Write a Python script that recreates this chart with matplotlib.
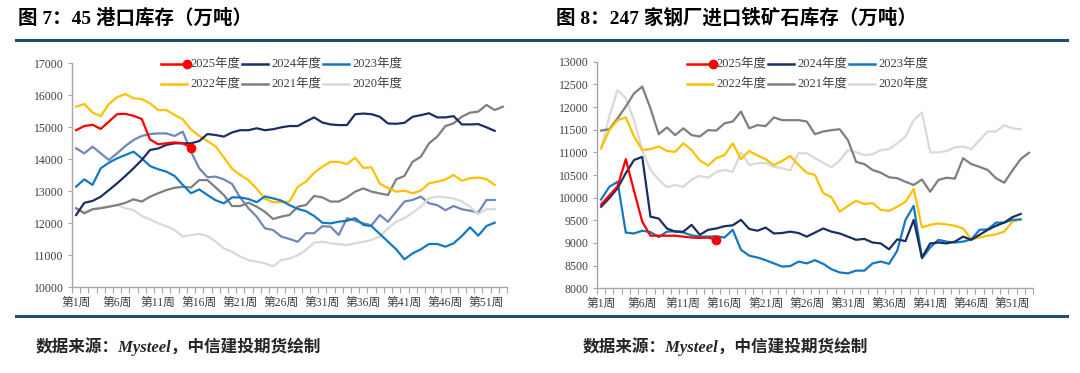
import numpy as np
import matplotlib
matplotlib.use("Agg")
import matplotlib.pyplot as plt
from matplotlib.lines import Line2D

plt.rcParams['font.family'] = ['Liberation Serif', 'Noto Sans CJK SC']

# 周次标签
weeks = [f"第{i}周" for i in range(1, 54)]
label_weeks = [1, 6, 11, 16, 21, 26, 31, 36, 41, 46, 51]

# 图7：45港口库存（万吨）
port_2025 = [14900, 15030, 15070, 14940, 15170, 15400, 15410, 15350, 15250, 14610,
             14460, 14490, 14520, 14490, 14350]
port_2024 = [12250, 12630, 12690, 12820, 13030, 13240, 13470, 13710, 13970, 14280,
             14330, 14440, 14490, 14490, 14490, 14560, 14780, 14750, 14700, 14830,
             14900, 14900, 14960, 14900, 14930, 14990, 15030, 15030, 15170, 15300,
             15140, 15080, 15060, 15060, 15400, 15420, 15400, 15320, 15110, 15100,
             15130, 15320, 15370, 15430, 15300, 15300, 15340, 15080, 15080, 15090,
             14990, 14880]
port_2023 = [13135, 13365, 13190, 13710, 13885, 14020, 14125, 14230, 14020, 13780,
             13680, 13605, 13470, 13190, 12930, 13050, 12875, 12710, 12615, 12800,
             12800, 12750, 12650, 12830, 12770, 12700, 12560, 12440, 12370, 12220,
             12010, 11990, 12040, 12070, 12150, 11940, 11900, 11660, 11417, 11177,
             10865, 11050, 11177, 11344, 11344, 11260, 11365, 11594, 11865, 11604,
             11906, 12010]
port_2022 = [15635, 15720, 15450, 15340, 15720, 15930, 16030, 15900, 15870, 15740,
             15530, 15530, 15375, 15240, 14920, 14720, 14560, 14390, 14050, 13700,
             13500, 13340, 13070, 12760, 12650, 12650, 12670, 13130, 13290, 13570,
             13760, 13910, 13910, 13840, 14040, 13720, 13740, 13230, 13090, 12980,
             13010, 12930, 13010, 13240, 13290, 13360, 13500, 13320, 13400, 13420,
             13370, 13190]
port_2021 = [12460, 12300, 12430, 12460, 12510, 12560, 12630, 12740, 12670, 12820,
             12930, 13030, 13100, 13130, 13110, 13340, 13340, 13110, 12875, 12530,
             12530, 12635, 12510, 12350, 12125, 12200, 12250, 12510, 12560, 12845,
             12800, 12670, 12670, 12800, 12980, 13080, 12980, 12925, 12875, 13365,
             13470, 13915, 14070, 14490, 14700, 15030, 15115, 15323, 15448, 15480,
             15690, 15530, 15635]
port_2020 = [12460, 12350, 12430, 12490, 12510, 12560, 12460, 12400, 12220, 12115,
             11990, 11900, 11780, 11575, 11625, 11660, 11595, 11415, 11205, 11100,
             10950, 10840, 10790, 10740, 10650, 10840, 10890, 10990, 11155, 11385,
             11415, 11365, 11340, 11310, 11365, 11415, 11470, 11575, 11835, 12040,
             12150, 12325, 12510, 12770, 12825, 12800, 12770, 12670, 12510, 12280,
             12430, 12430]
port_2019 = [14333, 14177, 14385, 14177, 13970, 14177, 14406, 14594, 14720, 14780,
             14800, 14800, 14720, 14855, 14230, 13710, 13430, 13450, 13365, 13220,
             12790, 12460, 12200, 11835, 11780, 11575, 11500, 11415, 11680, 11680,
             11900, 11885, 11625, 12150, 12070, 11990, 11930, 12250, 12040, 12355,
             12670, 12720, 12825, 12615, 12560, 12400, 12530, 12430, 12385, 12325,
             12720, 12720]

# 图8：247家钢厂进口铁矿石库存（万吨）
mill_2025 = [9850, 10050, 10250, 10850, 10150, 9470, 9160, 9160, 9160, 9160,
             9140, 9120, 9110, 9120, 9070]
mill_2024 = [9800, 9990, 10210, 10540, 10830, 10900, 9580, 9540, 9320, 9250,
             9250, 9400, 9180, 9290, 9320, 9370, 9390, 9510, 9310, 9270,
             9340, 9210, 9220, 9250, 9220, 9140, 9230, 9320, 9250, 9210,
             9140, 9070, 9090, 9010, 8990, 8860, 9080, 9040, 9510, 8680,
             8990, 9010, 8990, 9030, 9140, 9070, 9180, 9290, 9380, 9450,
             9570, 9640]
mill_2023 = [9960, 10240, 10350, 9230, 9210, 9270, 9240, 9130, 9250, 9260,
             9230, 9170, 9140, 9140, 9150, 9120, 9290, 8850, 8720, 8680,
             8620, 8550, 8480, 8490, 8590, 8550, 8620, 8540, 8420, 8350,
             8330, 8390, 8390, 8550, 8590, 8540, 8830, 9510, 9820, 8660,
             8900, 9070, 9030, 9010, 9030, 9080, 9290, 9300, 9450, 9450,
             9510, 9520]
mill_2022 = [11090, 11490, 11710, 11770, 11350, 11050, 11070, 11130, 11030, 11010,
             11200, 11050, 10820, 10710, 10870, 10940, 11200, 10850, 11030, 10930,
             10850, 10720, 10810, 10920, 10720, 10550, 10500, 10100, 10010, 9690,
             9820, 9930, 9860, 9880, 9730, 9710, 9800, 9910, 10190, 9340,
             9400, 9430, 9410, 9380, 9320, 9080, 9120, 9160, 9190, 9250,
             9470, 9520]
mill_2021 = [11480, 11510, 11750, 12010, 12300, 12450, 11970, 11400, 11550, 11380,
             11530, 11380, 11350, 11490, 11480, 11640, 11680, 11900, 11530, 11600,
             11580, 11770, 11710, 11710, 11710, 11680, 11400, 11460, 11490, 11510,
             11270, 10790, 10740, 10610, 10550, 10450, 10430, 10350, 10280, 10400,
             10130, 10390, 10440, 10420, 10870, 10740, 10680, 10610, 10430, 10330,
             10600, 10850, 10990]
mill_2020 = [11090, 11790, 12380, 12190, 11710, 11050, 10610, 10400, 10230, 10280,
             10240, 10400, 10480, 10440, 10570, 10610, 10570, 11000, 10720, 10760,
             10770, 10680, 10650, 10600, 10980, 10980, 10870, 10770, 10670, 10820,
             11050, 11000, 10940, 10960, 11050, 11070, 11200, 11350, 11710, 11880,
             11000, 11000, 11030, 11110, 11130, 11070, 11270, 11460, 11460, 11600,
             11530, 11510]

years = ["2025年度", "2024年度", "2023年度", "2022年度", "2021年度", "2020年度"]
colors = ["#FF0000", "#1B2F63", "#1478C4", "#FFC000", "#7F7F7F", "#D9D9D9"]
slate = "#7088B8"

W, H = 1080, 373
fig = plt.figure(figsize=(W / 100, H / 100), dpi=100)


def px(x, y):
    return x / W, 1 - y / H


def draw_panel(rect, series, extra, ylim, ystep):
    ax = fig.add_axes(rect)
    if extra is not None:
        ax.plot(np.arange(1, len(extra) + 1), extra, color=slate, lw=1.6, zorder=2)
    order = [5, 4, 3, 2, 1, 0]
    for i in order:
        s = series[i]
        x = np.arange(1, len(s) + 1)
        ax.plot(x, s, color=colors[i], lw=1.6, zorder=3 + (6 - i))
        if i == 0:
            ax.plot(x[-1], s[-1], 'o', color=colors[0], ms=6, zorder=10)
    ax.set_xlim(0.5, 53.5)
    ax.set_ylim(*ylim)
    ax.set_yticks(np.arange(ylim[0], ylim[1] + 1, ystep))
    ax.set_xticks(label_weeks)
    ax.set_xticklabels([weeks[w - 1] for w in label_weeks])
    ax.set_xticks(np.arange(0.5, 54, 1), minor=True)
    for sp in ['top', 'right']:
        ax.spines[sp].set_visible(False)
    for sp in ['left', 'bottom']:
        ax.spines[sp].set_color('#A6A6A6')
        ax.spines[sp].set_linewidth(1.0)
    ax.tick_params(axis='x', which='major', length=0, pad=7, labelsize=8.5,
                   labelcolor='#404040')
    ax.tick_params(axis='x', which='minor', length=4, color='#A6A6A6', width=0.8)
    ax.tick_params(axis='y', length=3, color='#A6A6A6', width=0.8, labelsize=8.5,
                   labelcolor='#404040', pad=3)
    ax.patch.set_alpha(0)
    return ax


def draw_legend(x0, y0):
    for k, (lab, c) in enumerate(zip(years, colors)):
        r, col = divmod(k, 3)
        xs = x0 + col * 81
        ys = y0 + r * 20
        (a, b), (c2, d) = px(xs, ys), px(xs + 26, ys)
        fig.add_artist(Line2D([a, c2], [b, d], color=c, lw=1.8,
                              transform=fig.transFigure))
        if k == 0:
            fig.add_artist(Line2D([c2], [d], marker='o', ms=6, color=c,
                                  transform=fig.transFigure))
        tx, ty = px(xs + 29, ys)
        fig.text(tx, ty, lab, fontsize=9, va='center', ha='left', color='#404040')


# 左图
l0, t0, r0, b0 = 72, 63, 507, 287
draw_panel([l0 / W, 1 - b0 / H, (r0 - l0) / W, (b0 - t0) / H],
           [port_2025, port_2024, port_2023, port_2022, port_2021, port_2020],
           port_2019, (10000, 17000), 1000)
draw_legend(161, 64)

# 右图
l1, t1, r1, b1 = 597, 61.7, 1033, 288.3
draw_panel([l1 / W, 1 - b1 / H, (r1 - l1) / W, (b1 - t1) / H],
           [mill_2025, mill_2024, mill_2023, mill_2022, mill_2021, mill_2020],
           None, (8000, 13000), 500)
draw_legend(687, 64)

# 标题、分隔线、来源
for x, t in [(18, "图 7：45 港口库存（万吨）"), (556, "图 8：247 家钢厂进口铁矿石库存（万吨）")]:
    fx, fy = px(x, 18)
    fig.text(fx, fy, t, fontsize=14, fontweight='bold', va='center', ha='left')

for y in [40, 316]:
    a, b = px(16, y)
    c2, d = px(1067, y)
    fig.add_artist(Line2D([a, c2], [b, d], color='#1F4E79', lw=2.2,
                          transform=fig.transFigure))

for x in [36, 583]:
    fx, fy = px(x, 347)
    fig.text(fx, fy, "数据来源：Mysteel，中信建投期货绘制", fontsize=12,
             fontweight='bold', style='italic', va='center', ha='left', color='#262626')

fig.savefig("out.png", dpi=100)
